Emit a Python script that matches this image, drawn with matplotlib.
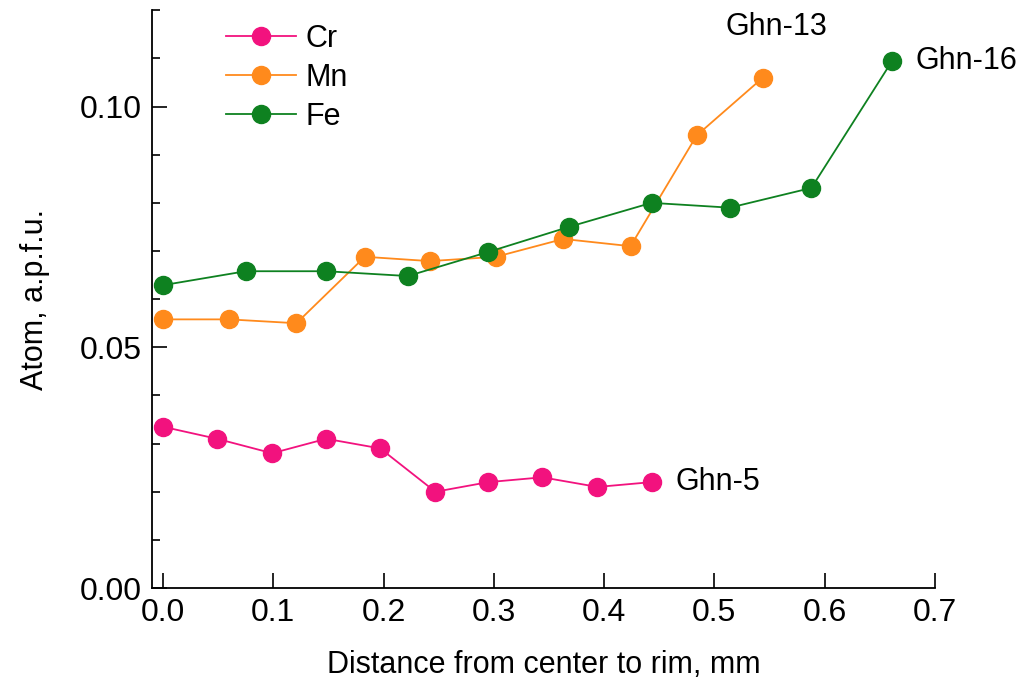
import matplotlib
matplotlib.use("Agg")
import matplotlib.pyplot as plt
from matplotlib.ticker import MultipleLocator, FormatStrFormatter

plt.rcParams['font.family'] = ['Liberation Sans', 'DejaVu Sans']

cr_x = [0.0, 0.049, 0.099, 0.148, 0.197, 0.247, 0.295, 0.344, 0.394, 0.443]
cr_y = [0.0335, 0.031, 0.028, 0.031, 0.029, 0.020, 0.022, 0.023, 0.021, 0.022]

mn_x = [0.0, 0.060, 0.121, 0.183, 0.242, 0.302, 0.363, 0.424, 0.484, 0.544]
mn_y = [0.0558, 0.0558, 0.055, 0.0688, 0.0679, 0.0688, 0.0725, 0.071, 0.094, 0.106]

fe_x = [0.0, 0.075, 0.148, 0.222, 0.295, 0.368, 0.443, 0.514, 0.588, 0.661]
fe_y = [0.0629, 0.0658, 0.0658, 0.0648, 0.0698, 0.075, 0.080, 0.079, 0.0831, 0.1094]

labels = ["Cr", "Mn", "Fe"]
colors = ["#F2127E", "#FF8A1C", "#0E8120"]

fig = plt.figure(figsize=(10.24, 6.83), dpi=100)
ax = fig.add_axes([0.1484, 0.139, 0.7646, 0.846])

for xs, ys, lab, c in zip([cr_x, mn_x, fe_x], [cr_y, mn_y, fe_y], labels, colors):
    ax.plot(xs, ys, '-o', color=c, lw=1.3, markersize=13, label=lab)

ax.text(0.465, 0.022, "Ghn-5", fontsize=22, va='center', ha='left')
ax.text(0.682, 0.1094, "Ghn-16", fontsize=22, va='center', ha='left')
ax.text(0.556, 0.1165, "Ghn-13", fontsize=22, va='center', ha='center')

ax.set_xlim(-0.01, 0.70)
ax.set_ylim(0.0, 0.12)
ax.spines['top'].set_visible(False)
ax.spines['right'].set_visible(False)
ax.spines['left'].set_linewidth(1.3)
ax.spines['bottom'].set_linewidth(1.3)

ax.xaxis.set_major_locator(MultipleLocator(0.1))
ax.xaxis.set_major_formatter(FormatStrFormatter('%.1f'))
ax.yaxis.set_major_locator(MultipleLocator(0.05))
ax.yaxis.set_minor_locator(MultipleLocator(0.01))
ax.yaxis.set_major_formatter(FormatStrFormatter('%.2f'))
ax.tick_params(axis='both', which='major', direction='in', length=11, width=1.2, labelsize=23, pad=7)
ax.tick_params(axis='y', which='minor', direction='in', length=6, width=1.2)

ax.set_xlabel("Distance from center to rim, mm", fontsize=22, labelpad=16)
ax.set_ylabel("Atom, a.p.f.u.", fontsize=22, labelpad=22)

ax.legend(loc='upper left', bbox_to_anchor=(0.067, 1.014), frameon=False, fontsize=22,
          handlelength=2.3, handletextpad=0.3, labelspacing=0.3, borderpad=0.2)

fig.savefig("out.png", dpi=100)
